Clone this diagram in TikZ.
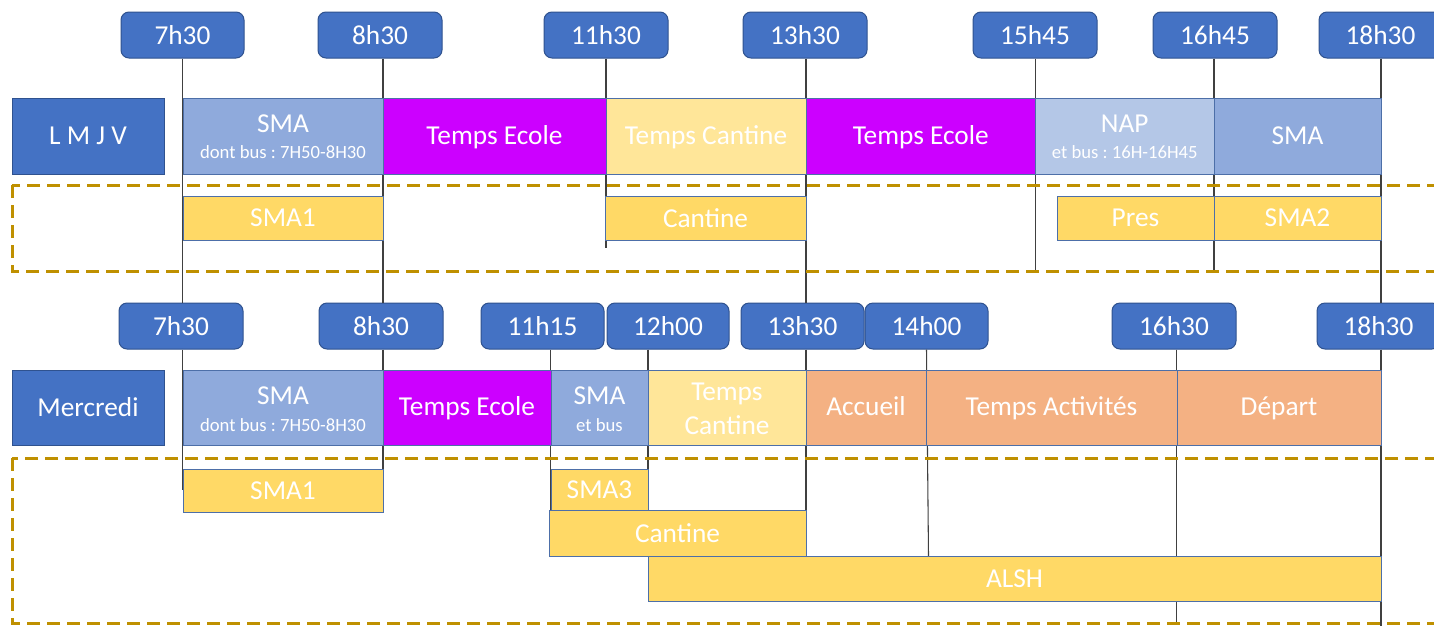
\documentclass[tikz,border=0pt]{standalone}
\usepackage{fontspec}
\setmainfont{Carlito}
\usetikzlibrary{fit,calc}
\definecolor{tblue}{HTML}{4472C4}
\definecolor{tedge}{HTML}{2F528F}
\definecolor{smab}{HTML}{8FAADC}
\definecolor{napb}{HTML}{B4C7E7}
\definecolor{ecole}{HTML}{CC00FF}
\definecolor{cant}{HTML}{FFE699}
\definecolor{orng}{HTML}{F4B183}
\definecolor{goldf}{HTML}{FFD966}
\definecolor{dashgold}{HTML}{BF9000}
\definecolor{segedge}{HTML}{4D6FA8}
\newcommand\bigfnt{\fontsize{20.5}{24}\selectfont\frenchspacing}
\newcommand\smallfnt{\fontsize{14}{16}\selectfont\frenchspacing}
\tikzset{
  tbox/.style={draw=tedge, fill=tblue, rounded corners=6pt, line width=0.75pt, inner sep=0pt},
  labbox/.style={draw=tedge, fill=tblue, line width=0.75pt, inner sep=0pt},
  seg/.style={draw=segedge, line width=0.75pt, inner sep=0pt},
  subbox/.style={draw=segedge, fill=goldf, line width=0.75pt, inner sep=0pt},
  ctxt/.style={text=white, font=\bigfnt, anchor=center, inner sep=0pt},
  txt/.style={text=white, font=\bigfnt, anchor=base, inner sep=0pt},
  stxt/.style={text=white, font=\smallfnt, anchor=base, inner sep=0pt},
  vline/.style={draw=black!75, line width=0.8pt},
  dbox/.style={draw=dashgold, line width=2.25pt, dash pattern=on 9.5pt off 5.5pt}
}
\begin{document}
\begin{tikzpicture}[x=0.75pt,y=-0.75pt]
\clip (0,0) rectangle (1434,625);
\fill[white] (0,0) rectangle (1434,625);
% time boxes top
\node[tbox, fit={(121,12)(244,58)}] (ta1) {};
\node[tbox, fit={(318,12)(442,58)}] (ta2) {};
\node[tbox, fit={(544,12)(668,58)}] (ta3) {};
\node[tbox, fit={(743,12)(867,58)}] (ta4) {};
\node[tbox, fit={(973,12)(1097,58)}] (ta5) {};
\node[tbox, fit={(1153,12)(1277,58)}] (ta6) {};
\node[tbox, fit={(1319,12)(1442,58)}] (ta7) {};
\node[ctxt] (ka1) at (ta1.center) {7h30};
\node[ctxt] (ka2) at (ta2.center) {8h30};
\node[ctxt] (ka3) at (ta3.center) {11h30};
\node[ctxt] (ka4) at (ta4.center) {13h30};
\node[ctxt] (ka5) at (ta5.center) {15h45};
\node[ctxt] (ka6) at (ta6.center) {16h45};
\node[ctxt] (ka7) at (ta7.center) {18h30};
% time boxes bottom
\node[tbox, fit={(119,303)(243,349)}] (tb1) {};
\node[tbox, fit={(319,303)(443,349)}] (tb2) {};
\node[tbox, fit={(481,303)(604,349)}] (tb3) {};
\node[tbox, fit={(607,303)(729,349)}] (tb4) {};
\node[tbox, fit={(741,303)(864,349)}] (tb5) {};
\node[tbox, fit={(865,303)(988,349)}] (tb6) {};
\node[tbox, fit={(1112,303)(1236,349)}] (tb7) {};
\node[tbox, fit={(1317,303)(1440,349)}] (tb8) {};
\node[ctxt] (kb1) at (tb1.center) {7h30};
\node[ctxt] (kb2) at (tb2.center) {8h30};
\node[ctxt] (kb3) at (tb3.center) {11h15};
\node[ctxt] (kb4) at (tb4.center) {12h00};
\node[ctxt] (kb5) at (tb5.center) {13h30};
\node[ctxt] (kb6) at (tb6.center) {14h00};
\node[ctxt] (kb7) at (tb7.center) {16h30};
\node[ctxt] (kb8) at (tb8.center) {18h30};
% line ends
\coordinate (ea1) at (182.5,303);
\coordinate (ea2) at (383,303);
\coordinate (ea3) at (606,248);
\coordinate (ea4) at (806,303);
\coordinate (ea5) at (1035.5,271);
\coordinate (ea6) at (1214,271);
\coordinate (ea7) at (1381,303);
\coordinate (eb1) at (182.5,490);
\coordinate (eb2) at (383,469);
\coordinate (eb3) at (550.7,510);
\coordinate (eb4) at (648,556);
\coordinate (eb5) at (806,510);
\coordinate (eb6) at (928.5,556);
\coordinate (eb7) at (1176.7,623);
\coordinate (eb8) at (1381,626);
\draw[vline] (ta1.south -| ea1) -- (ea1);
\draw[vline] (ta2.south -| ea2) -- (ea2);
\draw[vline] (ta3.south -| ea3) -- (ea3);
\draw[vline] (ta4.south -| ea4) -- (ea4);
\draw[vline] (ta5.south -| ea5) -- (ea5);
\draw[vline] (ta6.south -| ea6) -- (ea6);
\draw[vline] (ta7.south -| ea7) -- (ea7);
\draw[vline] (tb1.south -| eb1) -- (eb1);
\draw[vline] (tb2.south -| eb2) -- (eb2);
\draw[vline] (tb3.south -| eb3) -- (eb3);
\draw[vline] (tb4.south -| eb4) -- (eb4);
\draw[vline] (tb5.south -| eb5) -- (eb5);
\draw[vline] (tb6.south) -- (eb6);
\draw[vline] (tb7.south -| eb7) -- (eb7);
\draw[vline] (tb8.south -| eb8) -- (eb8);
% dashed areas
\draw[dbox] (12,185) rectangle (1460,271);
\draw[dbox] (12,458) rectangle (1460,623);
% day labels
\node[labbox, fit={(12,98)(164,174)}] (d1) {};
\node[labbox, fit={(12,370)(164,445)}] (d2) {};
\node[ctxt] (kd1) at (d1.center) {L M J V};
\node[ctxt] (kd2) at (d2.center) {Mercredi};
% row 1
\node[seg, fill=smab, fit={(183,98)(383,174)}] (r1a) {};
\node[seg, fill=ecole, fit={(383,98)(606,174)}] (r1b) {};
\node[seg, fill=cant, fit={(606,98)(806,174)}] (r1c) {};
\node[seg, fill=ecole, fit={(806,98)(1035.5,174)}] (r1d) {};
\node[seg, fill=napb, fit={(1035.5,98)(1214,174)}] (r1e) {};
\node[seg, fill=smab, fit={(1214,98)(1381,174)}] (r1f) {};
\node[txt] (x1a) at ($(r1a.center)+(0,-3.5)$) {SMA};
\node[stxt] (y1a) at ($(r1a.center)+(0,22)$) {dont bus : 7H50-8H30};
\node[txt] (x1b) at ($(r1b.center)+(0,8)$) {Temps Ecole};
\node[txt] (x1c) at ($(r1c.center)+(0,8)$) {Temps Cantine};
\node[txt] (x1d) at ($(r1d.center)+(0,8)$) {Temps Ecole};
\node[txt] (x1e) at ($(r1e.center)+(0,-3.5)$) {NAP};
\node[stxt] (y1e) at ($(r1e.center)+(0,22)$) {et bus : 16H-16H45};
\node[txt] (x1f) at ($(r1f.center)+(0,8)$) {SMA};
% row 1 sub boxes
\node[subbox, fit={(183,196)(383,240)}] (s1a) {};
\node[subbox, fit={(605,196)(806,240)}] (s1b) {};
\node[subbox, fit={(1057,196)(1214,240)}] (s1c) {};
\node[subbox, fit={(1214,196)(1381,240)}] (s1d) {};
\node[ctxt] (ks1a) at (s1a.center) {SMA1};
\node[ctxt] (ks1b) at (s1b.center) {Cantine};
\node[ctxt] (ks1c) at (s1c.center) {Pres};
\node[ctxt] (ks1d) at (s1d.center) {SMA2};
% row 2
\node[seg, fill=smab, fit={(183,370)(383,445)}] (r2a) {};
\node[seg, fill=ecole, fit={(383,370)(551,445)}] (r2b) {};
\node[seg, fill=smab, fit={(551,370)(648,445)}] (r2c) {};
\node[seg, fill=cant, fit={(648,370)(806,445)}] (r2d) {};
\node[seg, fill=orng, fit={(806,370)(926,445)}] (r2e) {};
\node[seg, fill=orng, fit={(926,370)(1177,445)}] (r2f) {};
\node[seg, fill=orng, fit={(1177,370)(1381,445)}] (r2g) {};
\node[txt] (x2a) at ($(r2a.center)+(0,-3)$) {SMA};
\node[stxt] (y2a) at ($(r2a.center)+(0,23.5)$) {dont bus : 7H50-8H30};
\node[txt] (x2b) at ($(r2b.center)+(0,8)$) {Temps Ecole};
\node[txt] (x2c) at ($(r2c.center)+(0,-3)$) {SMA};
\node[stxt] (y2c) at ($(r2c.center)+(0,23.5)$) {et bus};
\node[txt] (x2d) at ($(r2d.center)+(0,-7)$) {Temps};
\node[txt] (y2d) at ($(r2d.center)+(0,26.5)$) {Cantine};
\node[txt] (x2e) at ($(r2e.center)+(0,8)$) {Accueil};
\node[txt] (x2f) at ($(r2f.center)+(0,8)$) {Temps Activités};
\node[txt] (x2g) at ($(r2g.center)+(0,8)$) {Départ};
% row 2 sub boxes
\node[subbox, fit={(183,469)(383,512)}] (s2a) {};
\node[subbox, fit={(551,469)(648,510)}] (s2b) {};
\node[subbox, fit={(549,510)(806,556)}] (s2c) {};
\node[subbox, fit={(648,556)(1381,601)}] (s2d) {};
\node[ctxt] (ks2a) at (s2a.center) {SMA1};
\node[ctxt] (ks2b) at (s2b.center) {SMA3};
\node[ctxt] (ks2c) at (s2c.center) {Cantine};
\node[ctxt] (ks2d) at (s2d.center) {ALSH};
\end{tikzpicture}
\end{document}
